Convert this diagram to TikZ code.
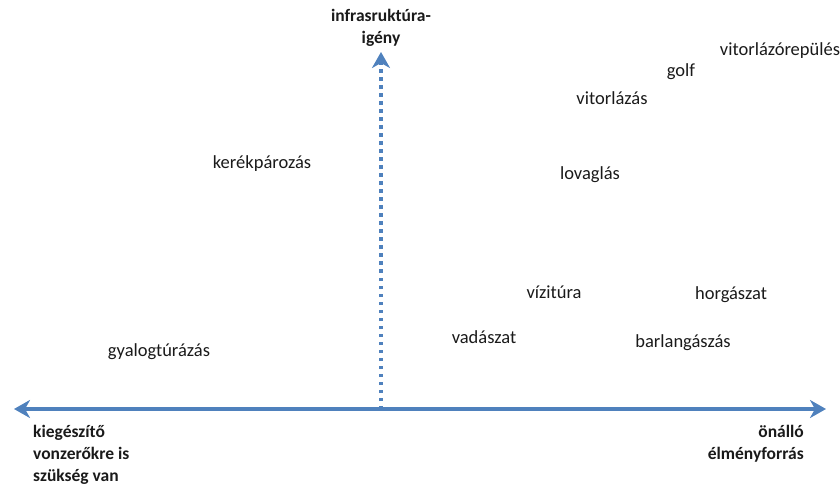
\documentclass[tikz,border=0pt]{standalone}
\usepackage{fontspec}
\setmainfont{Carlito}
\usetikzlibrary{arrows.meta}
\definecolor{axisblue}{HTML}{4F81BD}
\definecolor{txt}{HTML}{1A1A1A}
\begin{document}
\begin{tikzpicture}[x=1pt,y=-1pt,
  lbl/.style={font=\fontsize{18.5}{22}\selectfont, text=txt, inner sep=0pt, anchor=center},
  blbl/.style={font=\bfseries\fontsize{17.5}{22}\selectfont, text=txt, inner sep=0pt},
  axis/.style={axisblue, line width=3.5pt},
  vaxis/.style={axisblue, line width=3.5pt, dash pattern=on 3.5pt off 4.5pt, -{Stealth[length=16pt,width=18pt,inset=5pt]}}
]
\useasboundingbox (0,0) rectangle (840,486);
\coordinate (L) at (14,409);
\coordinate (R) at (826,409);
\coordinate (O) at (381,409);
\coordinate (T) at (381,52);
\draw[axis, {Stealth[length=16pt,width=18pt,inset=5pt]}-{Stealth[length=16pt,width=18pt,inset=5pt]}] (L) -- (R);
\draw[vaxis, line cap=butt] (O) -- (T);
\node[blbl, align=center, anchor=center] (ylab) at (381,28) {infrasruktúra-\\igény};
\node[blbl, align=left, anchor=north west] (xl) at (33,425) {kiegészítő\\vonzerőkre is\\szükség van};
\node[blbl, align=right, anchor=north east] (xr) at (804,425) {önálló\\élményforrás};
\node[lbl] (a) at (780,51) {vitorlázórepülés};
\node[lbl] (b) at (681,72) {golf};
\node[lbl] (c) at (612,98) {vitorlázás};
\node[lbl] (d) at (262,164) {kerékpározás};
\node[lbl] (e) at (590,175) {lovaglás};
\node[lbl] (f) at (554,292) {vízitúra};
\node[lbl] (g) at (731,295) {horgászat};
\node[lbl] (h) at (484,337) {vadászat};
\node[lbl] (i) at (683,343) {barlangászás};
\node[lbl] (j) at (159,352) {gyalogtúrázás};
\end{tikzpicture}
\end{document}
